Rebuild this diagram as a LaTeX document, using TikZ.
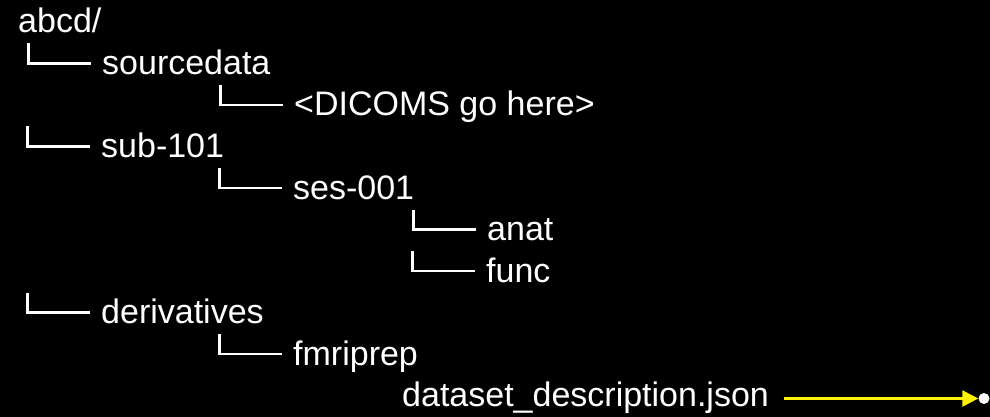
\documentclass[tikz,border=0pt]{standalone}
\usepackage{fontspec}
\setmainfont{Liberation Sans}
\usetikzlibrary{arrows.meta}

\begin{document}
\begin{tikzpicture}[x=1pt, y=-1pt,
    	entry/.style = {anchor = base west, inner sep = 0pt, text = white, font = \fontsize{34}{40}\selectfont},
    	branch/.style = {draw = white, line width = 2.3pt},
    	pointer/.style = {draw = yellow, line width = 2.5pt, arrows = {-Triangle[width = 16pt, length = 16pt]}}]
    	\fill[black] (0,0) rectangle (990,417);
    	\useasboundingbox (0,0) rectangle (990,417);
    	\node[entry] (root) at (18,33) {abcd/};
    	\node[entry] (src) at (102,74.5) {sourcedata};
    	\node[entry] (dicom) at (294,116) {<DICOMS go here>};
    	\node[entry] (sub) at (101,157.5) {sub-101};
    	\node[entry] (ses) at (293,199) {ses-001};
    	\node[entry] (anat) at (487,240.5) {anat};
    	\node[entry] (func) at (486,282) {func};
    	\node[entry] (deriv) at (101,323.5) {derivatives};
    	\node[entry] (fmri) at (293,365) {fmriprep};
    	\node[entry] (json) at (402,406.5) {dataset\_description.json};
    	\node[circle, fill = white, inner sep = 0pt, minimum size = 11pt] (dot) at (984,398.5) {};
    	\foreach \n in {src, dicom, sub, ses, anat, func, deriv, fmri}
    	    \draw[branch] ([xshift = -73.5pt, yshift = 31pt]\n.base west) |- ([xshift = -11pt, yshift = 11pt]\n.base west);
    	\draw[pointer] ([xshift = 15pt, yshift = 8pt]json.base east) -- (dot.west);
    \end{tikzpicture}
\end{document}
